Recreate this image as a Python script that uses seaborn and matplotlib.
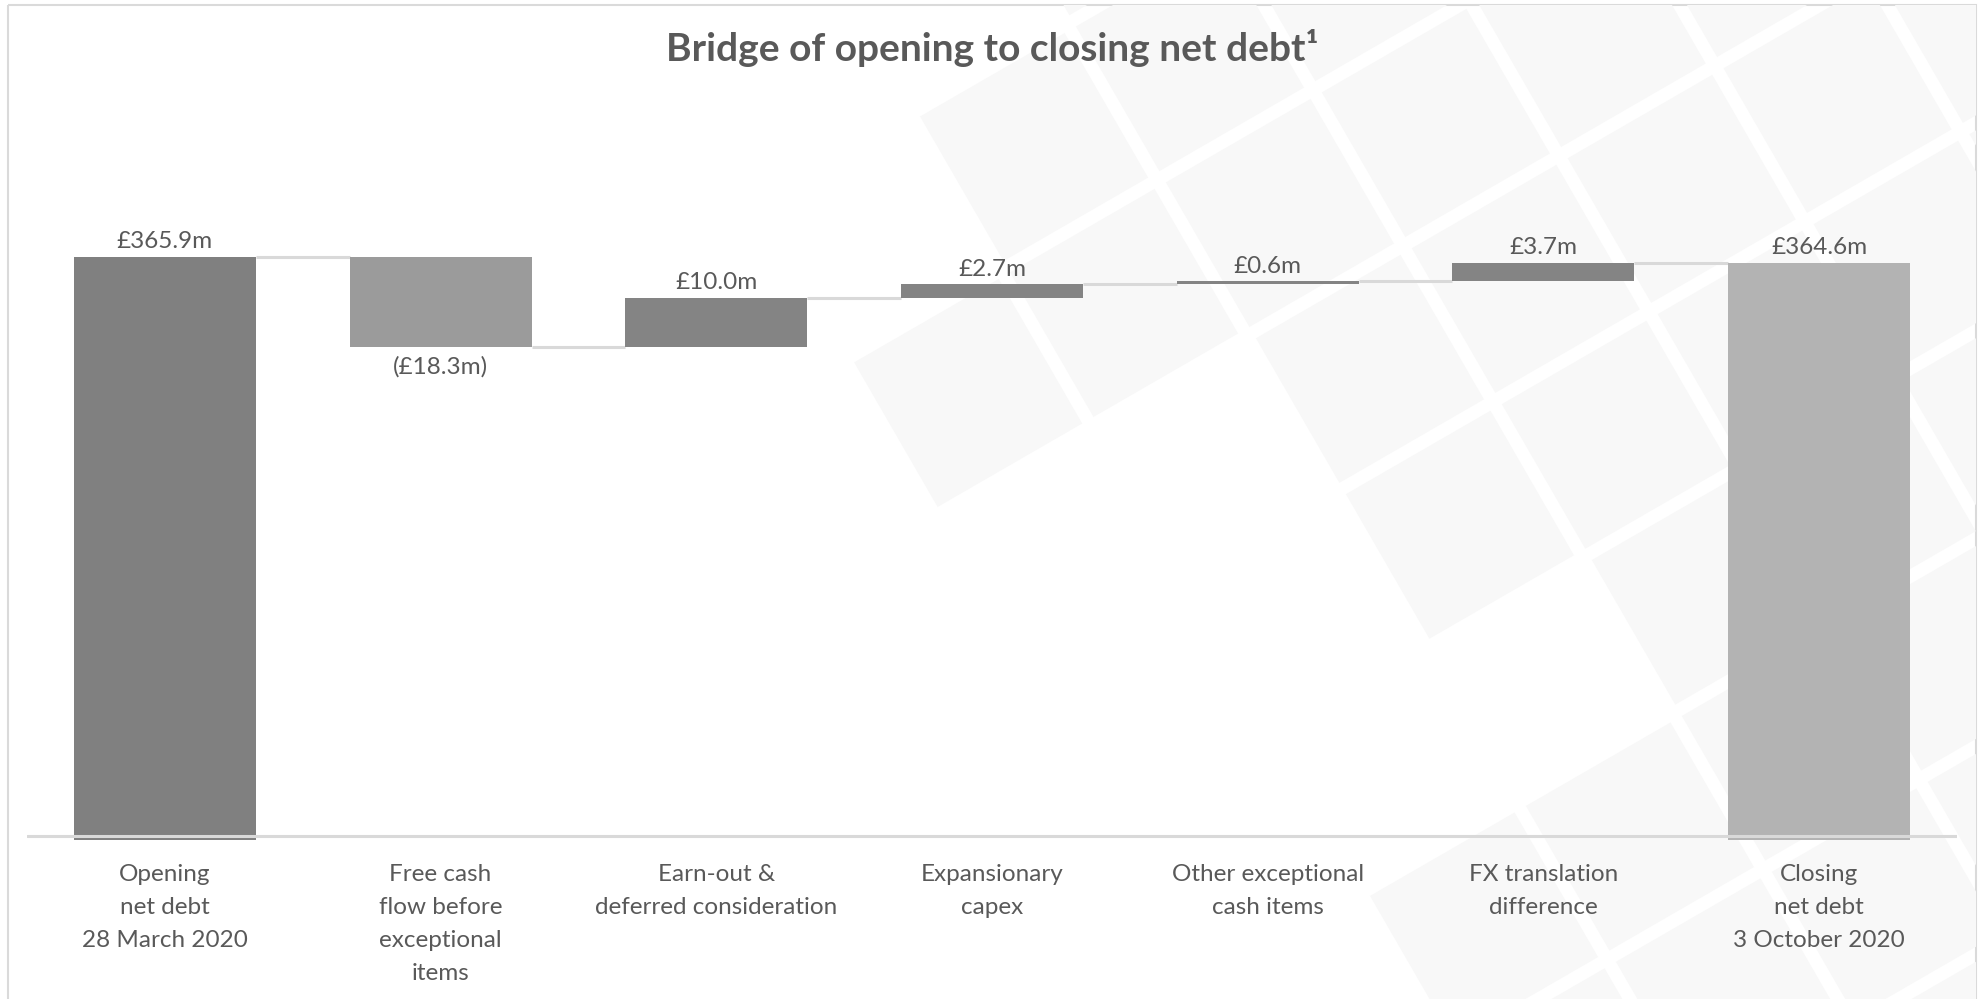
import numpy as np
import pandas as pd
import matplotlib
matplotlib.use("Agg")
import matplotlib.pyplot as plt
from matplotlib.patches import Polygon, Rectangle
import seaborn as sns

# ---- data -------------------------------------------------------------
categories = [
    "Opening\nnet debt\n28 March 2020",
    "Free cash\nflow before\nexceptional\nitems",
    "Earn-out &\ndeferred consideration",
    "Expansionary\ncapex",
    "Other exceptional\ncash items",
    "FX translation\ndifference",
    "Closing\nnet debt\n3 October 2020",
]
opening_debt = 365.9
movements = [-18.3, 10.0, 2.7, 0.6, 3.7]
closing_debt = 364.6
value_labels = ["£365.9m", "(£18.3m)", "£10.0m", "£2.7m", "£0.6m", "£3.7m", "£364.6m"]
bar_colors = ["#808080", "#9b9b9b", "#848484", "#848484", "#848484", "#848484", "#b3b3b3"]

TEXT = "#595959"
W, H = 1982, 999

# value-axis window (£m) and its pixel scale
y_low, px_per_m = 247.6, 4.93
ax_left, ax_right, ax_bottom_px, ax_top_px = 27, 1957, 840, 99
y_high = y_low + (ax_bottom_px - ax_top_px) / px_per_m

# ---- waterfall geometry ----------------------------------------------
levels = [opening_debt]
for m in movements:
    levels.append(round(levels[-1] + m, 1))
bases, tops = [y_low], [opening_debt]
for prev, cur in zip(levels[:-1], levels[1:]):
    bases.append(min(prev, cur))
    tops.append(max(prev, cur))
bases.append(y_low)
tops.append(closing_debt)
df = pd.DataFrame({"item": categories, "base": bases, "top": tops})
df["height"] = df["top"] - df["base"]

# ---- figure -----------------------------------------------------------
sns.set_theme(style="white")
plt.rcParams["font.family"] = ["Lato", "DejaVu Sans"]
fig = plt.figure(figsize=(W / 100, H / 100), dpi=100)
fig.patch.set_facecolor("white")

# decorative background: faint rotated tile lattice
bg = fig.add_axes([0, 0, 1, 1], zorder=0)
bg.set_xlim(0, W)
bg.set_ylim(H, 0)
bg.axis("off")
frame = Rectangle((8, 5), 1968, H + 10, facecolor="none", edgecolor="#dadada",
                  lw=1.5, transform=bg.transData)
bg.add_patch(frame)
period, gap = 180.0, 13.0
ang = np.deg2rad(30)
ua = np.array([np.cos(ang), -np.sin(ang)])
ub = np.array([np.sin(ang), np.cos(ang)])
origin = np.array([1157.0, 180.0])
side = period - gap
missing = {(-1, -2), (-1, 1), (-1, 2), (-1, 3), (0, 3)}
for i in range(-8, 8):
    for j in range(-6, 8):
        p0 = origin + i * period * ua + j * period * ub + gap / 2 * (ua + ub)
        corners = [p0, p0 + side * ua, p0 + side * (ua + ub), p0 + side * ub]
        cx, cy = np.mean(corners, axis=0)
        if cx < 880 or (i <= -2 and j >= 1) or (i, j) in missing:
            continue
        if not (-200 < cx < W + 200 and -200 < cy < H + 200):
            continue
        tile = Polygon(corners, closed=True, facecolor="#f8f8f8", edgecolor="none")
        bg.add_patch(tile)
        tile.set_clip_path(frame)

# main chart axes
ax = fig.add_axes([ax_left / W, (H - ax_bottom_px) / H,
                   (ax_right - ax_left) / W, (ax_bottom_px - ax_top_px) / H], zorder=1)
ax.patch.set_alpha(0)

sns.barplot(data=df, x="item", y="height", bottom=df["base"].to_numpy(),
            width=0.66, color="#848484", saturation=1, errorbar=None,
            ax=ax, zorder=2)
for patch, col in zip(ax.patches, bar_colors):
    patch.set_facecolor(col)
    patch.set_edgecolor("none")

# connectors between consecutive bars
half = 0.33
for i, lvl in enumerate(levels):
    ax.plot([i + half, i + 1 - half], [lvl, lvl], color="#d9d9d9", lw=2.2,
            solid_capstyle="butt", zorder=1)

# category axis line
ax.axhline(y_low + 4 / px_per_m, color="#d9d9d9", lw=2.2, zorder=3)

# value labels
for i, (lab, base, top) in enumerate(zip(value_labels, df["base"], df["top"])):
    neg = i in range(1, 6) and movements[i - 1] < 0
    if neg:
        ax.annotate(lab, (i, base), xytext=(0, -14), textcoords="offset points",
                    ha="center", va="center", fontsize=17.5, color=TEXT)
    else:
        ax.annotate(lab, (i, top), xytext=(0, 11), textcoords="offset points",
                    ha="center", va="center", fontsize=17.5, color=TEXT)

ax.set_xlim(-0.5, len(categories) - 0.5)
ax.set_ylim(y_low, y_high)
ax.set_xlabel("")
ax.set_ylabel("")
ax.set_yticks([])
ax.tick_params(axis="x", length=0, pad=17, labelsize=17.5, labelcolor=TEXT)
for t in ax.get_xticklabels():
    t.set_linespacing(1.72)
for s in ax.spines.values():
    s.set_visible(False)

fig.text(992 / W, 1 - 48 / H, "Bridge of opening to closing net debt¹",
         ha="center", va="center", fontsize=28, fontweight="bold", color=TEXT)

fig.savefig("out.png", dpi=100, facecolor="white")
